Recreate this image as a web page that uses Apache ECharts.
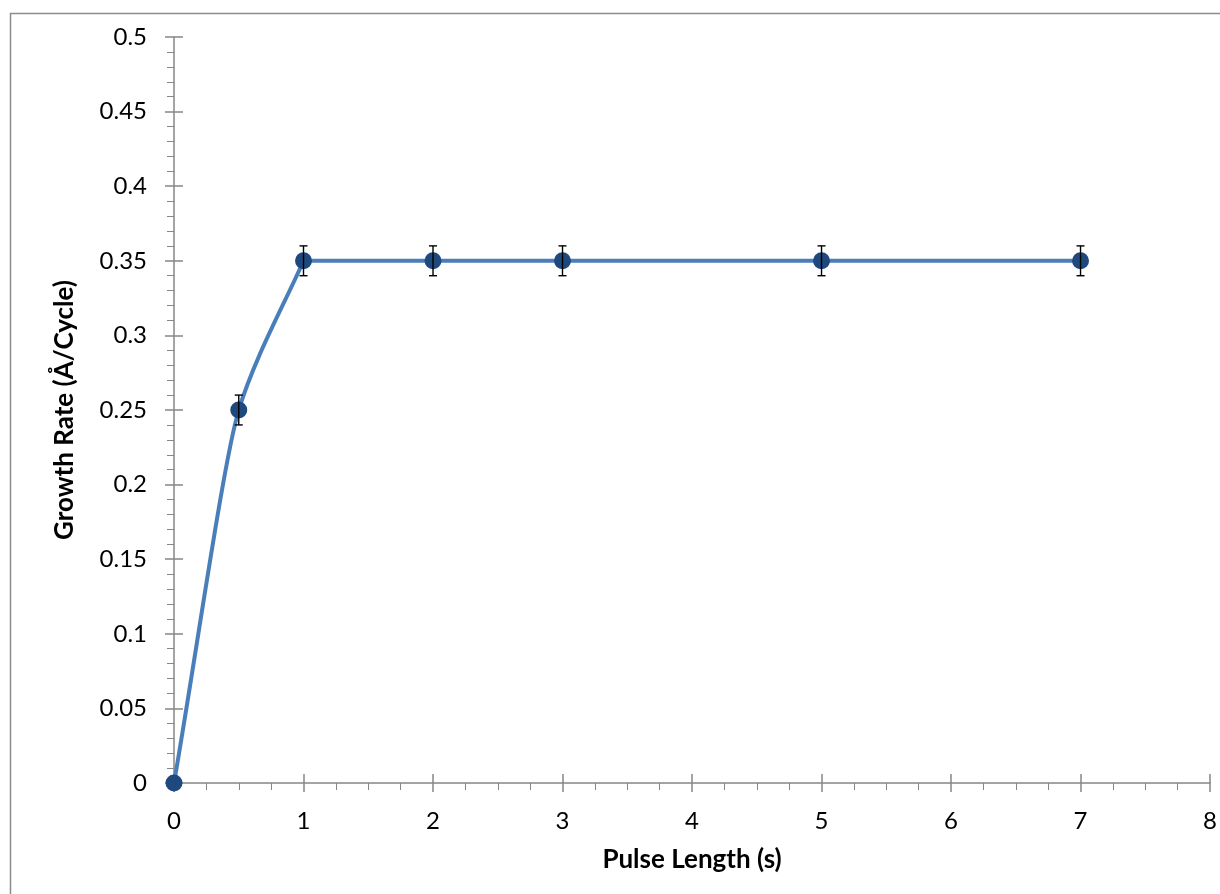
<!DOCTYPE html>
<html>
<head>
<meta charset="utf-8">
<script src="https://cdn.jsdelivr.net/npm/echarts@6/dist/echarts.min.js"></script>
<style>
html,body{margin:0;padding:0;background:#fff;}
#chart{width:1220px;height:894px;}
</style>
</head>
<body>
<div id="chart"></div>
<script>
// Data
const pulseLength = [0, 0.5, 1, 2, 3, 5, 7];
const growthRate = [0, 0.25, 0.35, 0.35, 0.35, 0.35, 0.35];
const errorPlusMinus = [0, 0.01, 0.01, 0.01, 0.01, 0.01, 0.01];
const xTitle = 'Pulse Length (s)';
const yTitle = 'Growth Rate (Å/Cycle)';

const FONT = 'Lato';
const AXIS_COLOR = '#868686';

const pointData = pulseLength.map((x, i) => [x, growthRate[i]]);
const errData = pulseLength.map((x, i) => [x, growthRate[i] - errorPlusMinus[i], growthRate[i] + errorPlusMinus[i]]);

const chart = echarts.init(document.getElementById('chart'));

const baseX = {type: 'value', min: 0, max: 8, interval: 1, splitLine: {show: false}};
const baseY = {type: 'value', min: 0, max: 0.5, interval: 0.05, splitLine: {show: false}};

// Smoothed segment (Excel-like look), computed in pixel space from the axis scales
function dist(a, b) { return Math.sqrt((b[0] - a[0]) ** 2 + (b[1] - a[1]) ** 2); }
function unit(a, b) {
  const l = dist(a, b) || 1;
  return [(b[0] - a[0]) / l, (b[1] - a[1]) / l];
}
function segmentItem(params, api) {
  const i = params.dataIndex;
  const n = pulseLength.length;
  if (i >= n - 1) return null;
  const P = k => api.coord([pulseLength[k], growthRate[k]]);
  const tangent = (k, side) => {
    const p = P(k);
    if (k === 0) return unit(p, P(1));
    if (k === n - 1) return unit(P(n - 2), p);
    const prev = P(k - 1), next = P(k + 1);
    const uIn = unit(prev, p), uOut = unit(p, next);
    if (growthRate[k - 1] === growthRate[k] || growthRate[k + 1] === growthRate[k]) {
      return side === 'out' ? uOut : uIn;
    }
    const s = [uIn[0] + uOut[0], uIn[1] + uOut[1]];
    const l = Math.sqrt(s[0] * s[0] + s[1] * s[1]) || 1;
    return [s[0] / l, s[1] / l];
  };
  // arm length at a point: a third of the shorter neighbouring chord
  const arm = k => {
    const p = P(k);
    const ls = [];
    if (k > 0) ls.push(dist(P(k - 1), p));
    if (k < n - 1) ls.push(dist(p, P(k + 1)));
    return Math.min.apply(null, ls) / 3;
  };
  const p1 = P(i), p2 = P(i + 1);
  const a1 = arm(i), a2 = arm(i + 1);
  const t1 = tangent(i, 'out'), t2 = tangent(i + 1, 'in');
  return {
    type: 'bezierCurve',
    shape: {
      x1: p1[0], y1: p1[1], x2: p2[0], y2: p2[1],
      cpx1: p1[0] + t1[0] * a1, cpy1: p1[1] + t1[1] * a1,
      cpx2: p2[0] - t2[0] * a2, cpy2: p2[1] - t2[1] * a2
    },
    style: {stroke: '#4A7EBB', lineWidth: 4, fill: 'none', lineCap: 'round'}
  };
}

chart.setOption({
  animation: false,
  backgroundColor: '#fff',
  graphic: [{
    type: 'rect', left: 8, top: 11, silent: true, z: -1,
    shape: {width: 1400, height: 1000},
    style: {fill: 'none', stroke: '#8c8c8c', lineWidth: 1.5}
  }],
  grid: {left: 174, right: 7, top: 37, bottom: 111},
  xAxis: [
    Object.assign({}, baseX, {
      name: xTitle, nameLocation: 'middle', nameGap: 64,
      nameTextStyle: {fontFamily: FONT, fontSize: 26, fontWeight: 'bold', color: '#000'},
      axisLine: {show: true, lineStyle: {color: AXIS_COLOR, width: 1.5}},
      axisTick: {show: true, length: 9, lineStyle: {color: AXIS_COLOR, width: 1.5}},
      minorTick: {show: true, splitNumber: 4, length: 7, lineStyle: {color: AXIS_COLOR, width: 1}},
      axisLabel: {fontFamily: FONT, fontSize: 24, color: '#000', margin: 26}
    }),
    Object.assign({}, baseX, {
      position: 'bottom',
      axisLine: {show: false},
      axisTick: {show: true, inside: true, length: 9, lineStyle: {color: AXIS_COLOR, width: 1.5}},
      axisLabel: {show: false}
    })
  ],
  yAxis: [
    Object.assign({}, baseY, {
      name: yTitle, nameLocation: 'middle', nameGap: 96,
      nameTextStyle: {fontFamily: FONT, fontSize: 26, fontWeight: 'bold', color: '#000'},
      axisLine: {show: true, lineStyle: {color: AXIS_COLOR, width: 1.5}},
      axisTick: {show: true, length: 9, lineStyle: {color: AXIS_COLOR, width: 1.5}},
      minorTick: {show: true, splitNumber: 5, length: 7, lineStyle: {color: AXIS_COLOR, width: 1}},
      axisLabel: {fontFamily: FONT, fontSize: 24, color: '#000', margin: 27,
        formatter: v => String(Math.round(v * 100) / 100)}
    }),
    Object.assign({}, baseY, {
      position: 'left',
      axisLine: {show: false},
      axisTick: {show: true, inside: true, length: 9, lineStyle: {color: AXIS_COLOR, width: 1.5}},
      axisLabel: {show: false}
    })
  ],
  series: [
    {
      type: 'custom',
      data: pointData,
      renderItem: segmentItem,
      z: 2,
      silent: true
    },
    {
      type: 'scatter',
      data: pointData,
      symbol: 'circle',
      symbolSize: 17,
      itemStyle: {color: '#1F497D', opacity: 1},
      z: 3
    },
    {
      type: 'custom',
      data: errData,
      z: 4,
      renderItem: function (params, api) {
        const x = api.value(0);
        const lo = api.coord([x, api.value(1)]);
        const hi = api.coord([x, api.value(2)]);
        if (Math.abs(lo[1] - hi[1]) < 0.5) return null;
        const cap = 4;
        const style = {stroke: '#000', lineWidth: 1.4};
        return {
          type: 'group',
          children: [
            {type: 'line', shape: {x1: lo[0], y1: lo[1], x2: hi[0], y2: hi[1]}, style: style},
            {type: 'line', shape: {x1: lo[0] - cap, y1: lo[1], x2: lo[0] + cap, y2: lo[1]}, style: style},
            {type: 'line', shape: {x1: hi[0] - cap, y1: hi[1], x2: hi[0] + cap, y2: hi[1]}, style: style}
          ]
        };
      }
    }
  ]
});
</script>
</body>
</html>
